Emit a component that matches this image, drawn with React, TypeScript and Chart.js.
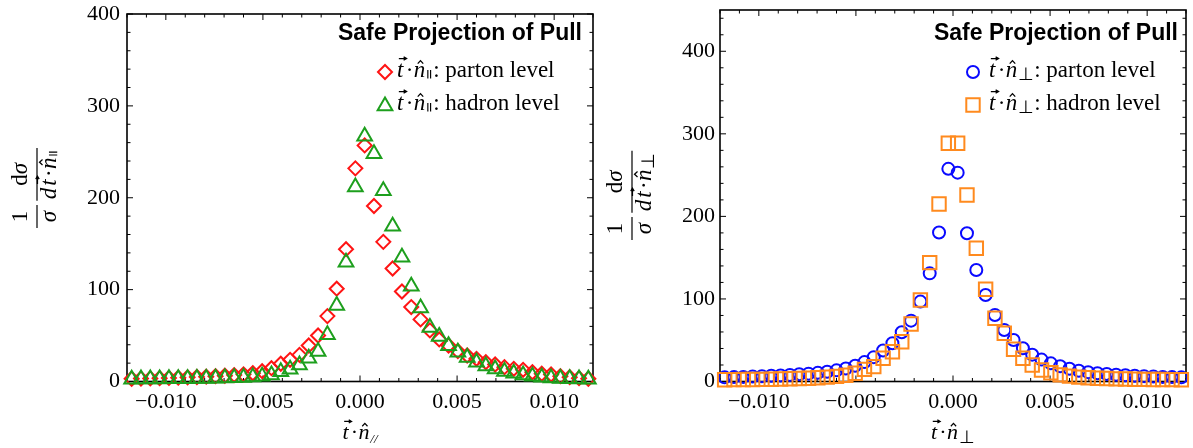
import React, { useEffect, useRef } from 'react';
import { Chart, registerables } from 'chart.js';

Chart.register(...registerables);

const SERIF = '"Liberation Serif", "Times New Roman", serif';
const SANS = '"Liberation Sans", Arial, Helvetica, sans-serif';

// bin centres of the histograms
const X_BINS = [
  -0.01176, -0.01128, -0.0108, -0.01032, -0.00984, -0.00936, -0.00888, -0.0084, -0.00792, -0.00744,
  -0.00696, -0.00648, -0.006, -0.00552, -0.00504, -0.00456, -0.00408, -0.0036, -0.00312, -0.00264,
  -0.00216, -0.00168, -0.0012, -0.00072, -0.00024, 0.00024, 0.00072, 0.0012, 0.00168, 0.00216,
  0.00264, 0.00312, 0.0036, 0.00408, 0.00456, 0.00504, 0.00552, 0.006, 0.00648, 0.00696,
  0.00744, 0.00792, 0.0084, 0.00888, 0.00936, 0.00984, 0.01032, 0.0108, 0.01128, 0.01176,
];

// left panel: t·n_parallel
const PAR_PARTON = [
  3.0, 3.2, 3.4, 3.6, 3.9, 4.2, 4.5, 4.9, 5.3, 5.8,
  6.3, 7.0, 7.8, 9.0, 11.2, 14.5, 19.3, 23.6, 29, 39.2,
  50.1, 71.2, 101, 144, 232, 257, 191, 152, 123, 98,
  81, 67.6, 55.6, 45.8, 39.2, 33, 28.3, 24.7, 21, 18.5,
  15.6, 13.8, 12.7, 10.1, 8.4, 7.6, 5.8, 4.7, 3.6, 3.0,
];
const PAR_HADRON = [
  2.5, 2.6, 2.7, 2.8, 2.9, 3.0, 3.1, 3.2, 3.4, 3.6,
  3.8, 4.0, 4.3, 4.8, 5.6, 7.1, 10.7, 13.3, 18, 25.4,
  32.6, 50.8, 82.8, 129.8, 211.8, 267, 248, 207.5, 169, 135.3,
  103.6, 80, 58.8, 49, 38.8, 31.9, 26, 21, 17, 13.5,
  11, 9, 7.2, 5.8, 4.7, 3.9, 3.3, 2.9, 2.6, 2.4,
];

// right panel: t·n_perp
const PERP_PARTON = [
  5, 5.3, 5.6, 6, 6.4, 6.9, 7.4, 8, 8.7, 9.5,
  10.5, 11.8, 13.5, 15.8, 19, 23.5, 29.5, 37.5, 46.3, 59.6,
  73.7, 96.8, 131, 180.4, 257.6, 253, 179.6, 135, 104.8, 80.6,
  62.4, 50.3, 40.2, 32.5, 26.5, 22, 18.5, 15.5, 13, 11.3,
  10, 9, 8.2, 7.5, 7, 6.5, 6, 5.6, 5.3, 5,
];
const PERP_HADRON = [
  2.2, 2.3, 2.4, 2.5, 2.6, 2.8, 3.0, 3.3, 3.6, 4.0,
  4.6, 5.3, 6.2, 7.5, 10, 14.7, 18, 28.1, 36.1, 48.2,
  69.7, 98.8, 144, 215, 288.7, 288.7, 226, 161.4, 111.7, 76.6,
  58.4, 39, 28.1, 20, 14, 10.7, 8, 6.5, 5.3, 4.6,
  4.0, 3.6, 3.2, 3.0, 2.8, 2.6, 2.5, 2.4, 2.3, 2.2,
];

const X_TICKS = [-0.01, -0.005, 0, 0.005, 0.01];
const X_TICK_LABELS = ['\u22120.010', '\u22120.005', '0.000', '0.005', '0.010'];
const Y_TICKS = [0, 100, 200, 300, 400];
const Y_TICK_LABELS = ['0', '100', '200', '300', '400'];
const TITLE = 'Safe Projection of Pull';
const LEGEND_PARTON = ': parton level';
const LEGEND_HADRON = ': hadron level';

const PAR_SUB = '\u2225';

type Cfg = {
  left: number; width: number; height: number;
  plotLeft: number; plotRight: number; plotTop: number; plotBottom: number;
  yMax: number; yPad: number;
  parton: number[]; hadron: number[];
  pStyle: string; pR: number; pColor: string;
  hStyle: string; hR: number; hColor: string;
  sub: string; subScale: number; subDy: number;
  xSub: string; xSubScale: number; xSubDy: number; xSubItalic: boolean;
  titleRight: number; titleBase: number;
  legMarkX: number; legTextX: number;
  yTitleLineX: number; yTitleBaseY: number;
};

function drawTDotN(ctx: CanvasRenderingContext2D, x: number, y: number, size: number, sub: string,
  subScale: number, subDy: number, subItalic: boolean, dry: boolean): number {
  ctx.lineWidth = Math.max(1, size * 0.055);
  let cx = x;
  ctx.font = `italic ${size}px ${SERIF}`;
  const tw = ctx.measureText('t').width;
  if (!dry) {
    ctx.fillText('t', cx, y);
    const ay = y - size * 0.8;
    const a0 = cx + size * 0.08;
    const a1 = cx + tw + size * 0.14;
    ctx.beginPath();
    ctx.moveTo(a0, ay); ctx.lineTo(a1, ay);
    ctx.moveTo(a1 - size * 0.13, ay - size * 0.075); ctx.lineTo(a1, ay); ctx.lineTo(a1 - size * 0.13, ay + size * 0.075);
    ctx.stroke();
  }
  cx += tw + size * 0.1;
  ctx.font = `${size}px ${SERIF}`;
  const dw = ctx.measureText('\u00b7').width;
  if (!dry) ctx.fillText('\u00b7', cx, y);
  cx += dw + size * 0.02;
  ctx.font = `italic ${size}px ${SERIF}`;
  const nw = ctx.measureText('n').width;
  if (!dry) {
    ctx.fillText('n', cx, y);
    const hx = cx + nw * 0.58;
    const hy = y - size * 0.58;
    ctx.beginPath();
    ctx.moveTo(hx - size * 0.12, hy); ctx.lineTo(hx, hy - size * 0.13); ctx.lineTo(hx + size * 0.12, hy);
    ctx.stroke();
  }
  cx += nw + size * 0.04;
  if (sub === PAR_SUB) {
    if (!dry) {
      ctx.save();
      ctx.lineWidth = Math.max(1, size * 0.05);
      ctx.beginPath();
      const yb = y + size * subDy;
      const h = size * 0.36;
      ctx.moveTo(cx + size * 0.07, yb); ctx.lineTo(cx + size * 0.07, yb - h);
      ctx.moveTo(cx + size * 0.19, yb); ctx.lineTo(cx + size * 0.19, yb - h);
      ctx.stroke();
      ctx.restore();
    }
    cx += size * 0.3;
  } else {
    ctx.font = `${subItalic ? 'italic ' : ''}${Math.round(size * subScale)}px ${SERIF}`;
    const sw = ctx.measureText(sub).width;
    if (!dry) ctx.fillText(sub, cx, y + size * subDy);
    cx += sw;
  }
  return cx - x;
}

function drawMarker(ctx: CanvasRenderingContext2D, style: string, x: number, y: number, r: number, color: string, lw: number) {
  ctx.save();
  ctx.strokeStyle = color;
  ctx.lineWidth = lw;
  ctx.beginPath();
  if (style === 'rectRot') {
    ctx.moveTo(x - r, y); ctx.lineTo(x, y - r); ctx.lineTo(x + r, y); ctx.lineTo(x, y + r); ctx.closePath();
  } else if (style === 'triangle') {
    for (let k = 0; k < 3; k++) {
      const a = (k * 2 * Math.PI) / 3;
      const px = x + Math.sin(a) * r;
      const py = y - Math.cos(a) * r;
      if (k === 0) ctx.moveTo(px, py); else ctx.lineTo(px, py);
    }
    ctx.closePath();
  } else if (style === 'circle') {
    ctx.arc(x, y, r, 0, Math.PI * 2);
  } else {
    const s = r * Math.SQRT1_2;
    ctx.rect(x - s, y - s, 2 * s, 2 * s);
  }
  ctx.stroke();
  ctx.restore();
}

function drawYTitle(ctx: CanvasRenderingContext2D, lineX: number, baseY: number, size: number, sub: string, subScale: number, subDy: number) {
  ctx.save();
  ctx.translate(lineX, baseY);
  ctx.rotate(-Math.PI / 2);
  ctx.fillStyle = '#000';
  ctx.strokeStyle = '#000';
  ctx.textAlign = 'left';
  ctx.textBaseline = 'alphabetic';
  const numV = -size * 0.42;
  const denV = size * 0.82;
  const smallW = size * 1.0;
  ctx.font = `${size}px ${SERIF}`;
  const w1 = ctx.measureText('1').width;
  ctx.fillText('1', (smallW - w1) / 2, numV);
  ctx.font = `italic ${size}px ${SERIF}`;
  const ws = ctx.measureText('\u03c3').width;
  ctx.fillText('\u03c3', (smallW - ws) / 2, denV);
  ctx.lineWidth = 1.2;
  ctx.beginPath(); ctx.moveTo(0, 0); ctx.lineTo(smallW, 0); ctx.stroke();

  const bx = smallW + size * 0.18;
  ctx.font = `italic ${size}px ${SERIF}`;
  const dW = ctx.measureText('d').width;
  const gap = size * 0.08;
  const tnW = drawTDotN(ctx, 0, 0, size, sub, subScale, subDy, false, true);
  const denW = dW + gap + tnW;
  const bigW = denW + size * 0.15;
  ctx.lineWidth = 1.2;
  ctx.beginPath(); ctx.moveTo(bx, 0); ctx.lineTo(bx + bigW, 0); ctx.stroke();

  ctx.font = `${size}px ${SERIF}`;
  const nd = ctx.measureText('d').width;
  ctx.font = `italic ${size}px ${SERIF}`;
  const ns = ctx.measureText('\u03c3').width;
  const nx = bx + (bigW - nd - ns) / 2;
  ctx.font = `${size}px ${SERIF}`;
  ctx.fillText('d', nx, numV);
  ctx.font = `italic ${size}px ${SERIF}`;
  ctx.fillText('\u03c3', nx + nd, numV);

  const dx = bx + (bigW - denW) / 2;
  ctx.font = `italic ${size}px ${SERIF}`;
  ctx.fillText('d', dx, denV);
  drawTDotN(ctx, dx + dW + gap, denV, size, sub, subScale, subDy, false, false);
  ctx.restore();
}

function makeFramePlugin(cfg: Cfg) {
  return {
    id: 'frameTicks',
    beforeDatasetsDraw(chart: any) {
      const { ctx, chartArea } = chart;
      const { left, right, top, bottom } = chartArea;
      const xs = chart.scales.x;
      const ys = chart.scales.y;
      ctx.save();
      ctx.strokeStyle = '#000';
      ctx.lineWidth = 1;
      ctx.beginPath();
      for (let k = -12; k <= 12; k++) {
        const px = xs.getPixelForValue(k / 1000);
        const len = k % 5 === 0 ? 6 : 3.5;
        ctx.moveTo(px, bottom); ctx.lineTo(px, bottom - len);
        ctx.moveTo(px, top); ctx.lineTo(px, top + len);
      }
      for (let v = 0; v <= cfg.yMax; v += 20) {
        const py = ys.getPixelForValue(v);
        const len = v % 100 === 0 ? 6 : 3.5;
        ctx.moveTo(left, py); ctx.lineTo(left + len, py);
        ctx.moveTo(right, py); ctx.lineTo(right - len, py);
      }
      ctx.stroke();
      ctx.lineWidth = 1.6;
      ctx.strokeRect(left, top, right - left, bottom - top);
      ctx.restore();
    },
    afterDraw(chart: any) {
      const { ctx, chartArea } = chart;
      ctx.save();
      ctx.fillStyle = '#000';
      ctx.strokeStyle = '#000';
      ctx.textBaseline = 'alphabetic';
      // title
      ctx.font = `bold 23px ${SANS}`;
      ctx.textAlign = 'right';
      ctx.fillText(TITLE, cfg.titleRight, cfg.titleBase);
      ctx.textAlign = 'left';
      // legend
      const rows = [
        { style: cfg.pStyle, r: cfg.pR, color: cfg.pColor, text: LEGEND_PARTON, my: 72, base: 77 },
        { style: cfg.hStyle, r: cfg.hR, color: cfg.hColor, text: LEGEND_HADRON, my: cfg.hStyle === 'triangle' ? 106 : 105, base: 110 },
      ];
      for (const row of rows) {
        drawMarker(ctx, row.style, cfg.legMarkX, row.my, row.r, row.color, 2);
        ctx.fillStyle = '#000';
        ctx.strokeStyle = '#000';
        const w = drawTDotN(ctx, cfg.legTextX, row.base, 23, cfg.sub, cfg.subScale, cfg.subDy, false, false);
        ctx.font = `23px ${SERIF}`;
        ctx.fillText(row.text, cfg.legTextX + w, row.base);
      }
      // x-axis title
      const cxm = (chartArea.left + chartArea.right) / 2;
      const xw = drawTDotN(ctx, 0, 0, 22, cfg.xSub, cfg.xSubScale, cfg.xSubDy, cfg.xSubItalic, true);
      drawTDotN(ctx, cxm - xw / 2, 439, 22, cfg.xSub, cfg.xSubScale, cfg.xSubDy, cfg.xSubItalic, false);
      ctx.restore();
      // y-axis title
      drawYTitle(ctx, cfg.yTitleLineX, cfg.yTitleBaseY, 23, cfg.sub, cfg.subScale, cfg.subDy);
    },
  };
}

function zeroPad(s: any) {
  s.paddingTop = 0;
  s.paddingBottom = 0;
  s.paddingLeft = 0;
  s.paddingRight = 0;
}

function Panel({ cfg }: { cfg: Cfg }) {
  const ref = useRef<HTMLCanvasElement>(null);
  useEffect(() => {
    const canvas = ref.current as HTMLCanvasElement;
    const mk = (vals: number[]) => X_BINS.map((x, i) => ({ x, y: vals[i] }));
    const chart = new Chart(canvas, {
      type: 'scatter',
      data: {
        datasets: [
          {
            label: 'parton',
            data: mk(cfg.parton),
            pointStyle: cfg.pStyle as any,
            pointRadius: cfg.pR,
            pointHoverRadius: cfg.pR,
            borderColor: cfg.pColor,
            pointBorderColor: cfg.pColor,
            backgroundColor: 'rgba(0,0,0,0)',
            pointBackgroundColor: 'rgba(0,0,0,0)',
            borderWidth: 2,
            pointBorderWidth: 2,
            showLine: false,
            clip: false as any,
            order: 2,
          },
          {
            label: 'hadron',
            data: mk(cfg.hadron),
            pointStyle: cfg.hStyle as any,
            pointRadius: cfg.hR,
            pointHoverRadius: cfg.hR,
            borderColor: cfg.hColor,
            pointBorderColor: cfg.hColor,
            backgroundColor: 'rgba(0,0,0,0)',
            pointBackgroundColor: 'rgba(0,0,0,0)',
            borderWidth: 2,
            pointBorderWidth: 2,
            showLine: false,
            clip: false as any,
            order: 1,
          },
        ],
      },
      options: {
        responsive: false,
        maintainAspectRatio: false,
        animation: false,
        events: [],
        layout: {
          autoPadding: false,
          padding: { left: 0, right: cfg.width - cfg.plotRight, top: cfg.plotTop, bottom: 0 },
        },
        plugins: { legend: { display: false }, tooltip: { enabled: false }, title: { display: false } },
        scales: {
          x: {
            type: 'linear',
            position: 'bottom',
            min: -0.012,
            max: 0.012,
            grid: { display: false, drawTicks: false },
            border: { display: false },
            ticks: {
              font: { family: SERIF, size: 22 },
              color: '#000',
              padding: 8,
              maxRotation: 0,
              minRotation: 0,
              autoSkip: false,
              callback: (v: any) => {
                const k = X_TICKS.findIndex((t) => Math.abs(t - Number(v)) < 1e-9);
                return k >= 0 ? X_TICK_LABELS[k] : '';
              },
            },
            afterBuildTicks: (s: any) => { s.ticks = X_TICKS.map((v) => ({ value: v })); },
            afterFit: (s: any) => { s.height = cfg.height - cfg.plotBottom; zeroPad(s); },
          },
          y: {
            type: 'linear',
            position: 'left',
            min: 0,
            max: cfg.yMax,
            grid: { display: false, drawTicks: false },
            border: { display: false },
            ticks: {
              font: { family: SERIF, size: 22 },
              color: '#000',
              padding: cfg.yPad,
              autoSkip: false,
              callback: (v: any) => {
                const k = Y_TICKS.findIndex((t) => Math.abs(t - Number(v)) < 1e-9);
                return k >= 0 ? Y_TICK_LABELS[k] : '';
              },
            },
            afterBuildTicks: (s: any) => { s.ticks = Y_TICKS.map((v) => ({ value: v })); },
            afterFit: (s: any) => { s.width = cfg.plotLeft; zeroPad(s); },
          },
        },
      } as any,
      plugins: [makeFramePlugin(cfg)],
    });
    return () => chart.destroy();
  }, [cfg]);
  return (
    <canvas
      ref={ref}
      width={cfg.width}
      height={cfg.height}
      style={{ position: 'absolute', left: cfg.left, top: 0, width: cfg.width, height: cfg.height }}
    />
  );
}

const LEFT_CFG: Cfg = {
  left: 0, width: 600, height: 448,
  plotLeft: 127, plotRight: 593, plotTop: 14, plotBottom: 381.5,
  yMax: 400, yPad: 7,
  parton: PAR_PARTON, hadron: PAR_HADRON,
  pStyle: 'rectRot', pR: 7, pColor: '#ff1414',
  hStyle: 'triangle', hR: 8.5, hColor: '#1d9f1d',
  sub: PAR_SUB, subScale: 0.55, subDy: 0.06,
  xSub: '//', xSubScale: 0.6, xSubDy: 0.18, xSubItalic: true,
  titleRight: 582, titleBase: 39.5,
  legMarkX: 385, legTextX: 397,
  yTitleLineX: 37, yTitleBaseY: 228,
};

const RIGHT_CFG: Cfg = {
  left: 600, width: 593, height: 448,
  plotLeft: 120, plotRight: 586, plotTop: 10, plotBottom: 381.5,
  yMax: 450, yPad: 5,
  parton: PERP_PARTON, hadron: PERP_HADRON,
  pStyle: 'circle', pR: 6, pColor: '#0a0aff',
  hStyle: 'rect', hR: 9.5, hColor: '#ff8a1e',
  sub: '\u22a5', subScale: 0.8, subDy: 0.15,
  xSub: '\u22a5', xSubScale: 0.8, xSubDy: 0.2, xSubItalic: false,
  titleRight: 578, titleBase: 40,
  legMarkX: 373, legTextX: 389,
  yTitleLineX: 32, yTitleBaseY: 240,
};

export default function App() {
  return (
    <div style={{ position: 'absolute', left: 0, top: 0, width: 1193, height: 448, background: '#fff', overflow: 'hidden' }}>
      <Panel cfg={LEFT_CFG} />
      <Panel cfg={RIGHT_CFG} />
    </div>
  );
}
